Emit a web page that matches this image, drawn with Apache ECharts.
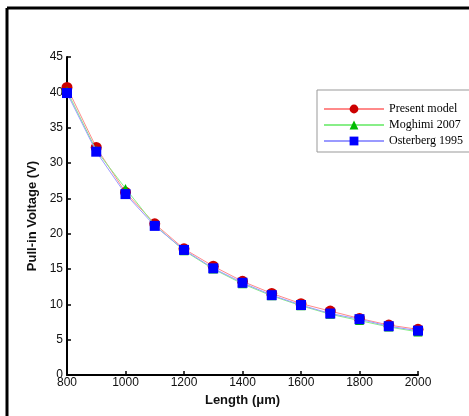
<!DOCTYPE html>
<html><head><meta charset="utf-8">
<script src="https://cdn.jsdelivr.net/npm/echarts@6/dist/echarts.min.js"></script>
<style>html,body{margin:0;padding:0;background:#fff}#c{width:469px;height:416px}</style>
</head><body><div id="c"></div>
<script>
var lengths = [800, 900, 1000, 1100, 1200, 1300, 1400, 1500, 1600, 1700, 1800, 1900, 2000];
var presentModel = [40.7, 32.2, 25.85, 21.4, 17.85, 15.4, 13.25, 11.55, 10.1, 9.05, 8.0, 7.07, 6.46];
var moghimi2007 = [40.2, 31.8, 26.4, 21.2, 17.6, 15.0, 12.9, 11.2, 9.8, 8.6, 7.7, 6.8, 6.1];
var osterberg1995 = [39.9, 31.6, 25.6, 21.1, 17.7, 15.1, 13.05, 11.3, 9.9, 8.7, 7.9, 6.9, 6.27];
var xTicks = [800, 1000, 1200, 1400, 1600, 1800, 2000];
var yTicks = [0, 5, 10, 15, 20, 25, 30, 35, 40, 45];

function pairs(v){ return lengths.map(function(x,i){ return [x, v[i]]; }); }

var chart = echarts.init(document.getElementById('c'));
var axisFont = {fontFamily: 'Liberation Sans, Arial, sans-serif', fontSize: 12, color: '#111'};
chart.setOption({
  backgroundColor: '#fff',
  animation: false,
  grid: {left: 67, right: 51, top: 57, bottom: 41, containLabel: false},
  graphic: [
    {type: 'line', shape: {x1: 7, y1: 8, x2: 469, y2: 8}, style: {stroke: '#000', lineWidth: 3}},
    {type: 'line', shape: {x1: 7, y1: 8, x2: 7, y2: 416}, style: {stroke: '#000', lineWidth: 3}}
  ],
  legend: {
    orient: 'vertical', left: 317, top: 90,
    backgroundColor: '#fff', borderColor: '#999', borderWidth: 1,
    padding: [13, 30, 5, 6],
    itemWidth: 60, itemHeight: 11, itemGap: 4,
    textStyle: {fontFamily: 'Liberation Serif, Times New Roman, serif', fontSize: 12, color: '#000'},
    data: ['Present model', 'Moghimi 2007', 'Osterberg 1995']
  },
  xAxis: {
    type: 'value', min: xTicks[0], max: xTicks[xTicks.length-1], interval: 200,
    name: 'Length (\u03bcm)', nameLocation: 'middle', nameGap: 14,
    nameTextStyle: {fontFamily: 'Liberation Sans, Arial, sans-serif', fontSize: 13, fontWeight: 'bold', color: '#111'},
    axisLine: {lineStyle: {color: '#000', width: 2}},
    axisTick: {inside: true, length: 4, lineStyle: {color: '#000', width: 1.5}},
    axisLabel: Object.assign({margin: 2, formatter: function(v){ return String(v); }}, axisFont),
    splitLine: {show: false}
  },
  yAxis: {
    type: 'value', min: yTicks[0], max: yTicks[yTicks.length-1], interval: 5,
    name: 'Pull-in Voltage (V)', nameLocation: 'middle', nameGap: 24,
    nameTextStyle: {fontFamily: 'Liberation Sans, Arial, sans-serif', fontSize: 13, fontWeight: 'bold', color: '#111'},
    axisLine: {show: true, lineStyle: {color: '#000', width: 2}},
    axisTick: {show: true, inside: true, length: 4, lineStyle: {color: '#000', width: 1.5}},
    axisLabel: Object.assign({margin: 4}, axisFont),
    splitLine: {show: false}
  },
  series: [
    {name: 'Present model', type: 'line', data: pairs(presentModel), symbol: 'circle', symbolSize: 11,
     itemStyle: {color: '#cc0000'}, lineStyle: {color: '#ff8a8a', width: 1}, z: 2},
    {name: 'Moghimi 2007', type: 'line', data: pairs(moghimi2007), symbol: 'triangle', symbolSize: 9,
     itemStyle: {color: '#00bb00'}, lineStyle: {color: '#88ee88', width: 1}, z: 3},
    {name: 'Osterberg 1995', type: 'line', data: pairs(osterberg1995), symbol: 'rect', symbolSize: 10,
     itemStyle: {color: '#0000ff'}, lineStyle: {color: '#9a9aff', width: 1}, z: 4}
  ]
});
</script></body></html>
